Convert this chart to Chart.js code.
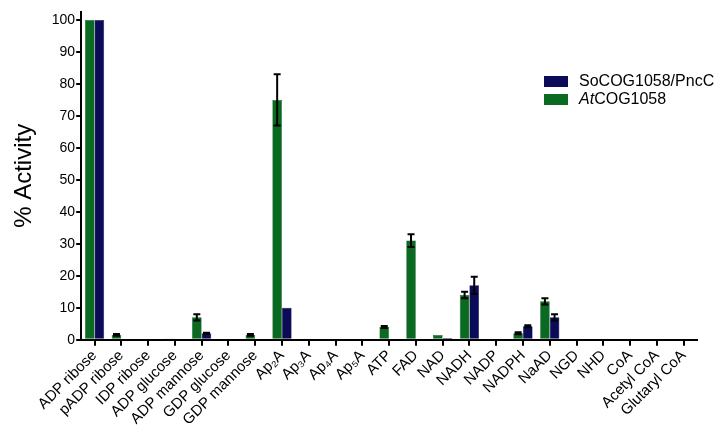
<!DOCTYPE html>
<html>
<head>
<meta charset="utf-8">
<script src="https://cdn.jsdelivr.net/npm/chart.js@4/dist/chart.umd.min.js"></script>
<style>
  html, body { margin: 0; padding: 0; background: #fff; }
  #wrap { position: relative; width: 720px; height: 433px; }
  #legend { position: absolute; left: 544px; top: 72px; font-family: "Liberation Sans", Arial, sans-serif; font-size: 16px; color: #000; }
  #legend div { height: 18px; line-height: 18px; white-space: nowrap; }
  #legend span.box { display: inline-block; width: 24px; height: 11px; margin-right: 11px; vertical-align: -1px; }
</style>
</head>
<body>
<div id="wrap">
  <canvas id="myChart" width="720" height="433"></canvas>
  <div id="legend">
    <div><span class="box" style="background:#0b0b57"></span>SoCOG1058/PncC</div>
    <div><span class="box" style="background:#0a6a22"></span><i>At</i>COG1058</div>
  </div>
</div>
<script>
// substrates along the x-axis
var substrates = ['ADP ribose','pADP ribose','IDP ribose','ADP glucose','ADP mannose','GDP glucose','GDP mannose',
  'Ap₂A','Ap₃A','Ap₄A','Ap₅A','ATP','FAD','NAD','NADH','NADP','NADPH','NaAD','NGD','NHD','CoA','Acetyl CoA','Glutaryl CoA'];

// AtCOG1058 (green)
var atVals = [100,1.5,0,0.4,7,0,1.5,75,0,0,0,4,31,1.5,14,0,2,12,0,0,0,0,0];
var atErr  = [0,0.3,0,0,1,0,0.3,8,0,0,0,0.3,2,0,1,0,0.3,1,0,0,0,0,0];
// SoCOG1058/PncC (navy)
var soVals = [100,0,0,0,2,0,0,10,0,0,0,0,0,0.5,17,0,4.2,7,0,0,0,0,0];
var soErr  = [0,0,0,0,0.2,0,0,0,0,0,0,0,0,0,2.7,0,0.3,1,0,0,0,0,0];

var yTicks = [0,10,20,30,40,50,60,70,80,90,100];

var errorBars = {
  id: 'errorBars',
  afterDatasetsDraw: function(chart) {
    var ctx = chart.ctx;
    var yScale = chart.scales.y;
    ctx.save();
    ctx.strokeStyle = '#000';
    ctx.lineWidth = 2;
    chart.data.datasets.forEach(function(ds, i) {
      var meta = chart.getDatasetMeta(i);
      meta.data.forEach(function(bar, j) {
        var e = ds.errors[j];
        if (!e) return;
        var v = ds.data[j];
        var yt = yScale.getPixelForValue(v + e);
        var yb = yScale.getPixelForValue(Math.max(v - e, 0));
        ctx.beginPath();
        ctx.moveTo(bar.x, yt); ctx.lineTo(bar.x, yb);
        ctx.moveTo(bar.x - 3.5, yt); ctx.lineTo(bar.x + 3.5, yt);
        ctx.moveTo(bar.x - 3.5, yb); ctx.lineTo(bar.x + 3.5, yb);
        ctx.stroke();
      });
    });
    ctx.restore();
  }
};

Chart.defaults.font.family = '"Liberation Sans", Arial, sans-serif';
Chart.defaults.color = '#000';

var ctx = document.getElementById('myChart');
var myChart = new Chart(ctx, {
  type: 'bar',
  data: {
    labels: substrates,
    datasets: [
      { label: 'AtCOG1058', data: atVals, errors: atErr, backgroundColor: '#0a6a22', borderColor: '#08581c', borderWidth: 0.5 },
      { label: 'SoCOG1058/PncC', data: soVals, errors: soErr, backgroundColor: '#0b0b57', borderColor: '#070744', borderWidth: 0.5 }
    ]
  },
  options: {
    responsive: false,
    animation: false,
    categoryPercentage: 0.72,
    barPercentage: 1.0,
    layout: { padding: { left: 10, right: 23, top: 12, bottom: 3 } },
    plugins: { legend: { display: false }, tooltip: { enabled: false } },
    scales: {
      x: {
        offset: true,
        grid: { offset: false, drawOnChartArea: false, drawTicks: true, tickLength: 6, color: '#000', lineWidth: 2 },
        border: { color: '#000', width: 2 },
        ticks: { font: { size: 15 }, maxRotation: 45, minRotation: 45, autoSkip: false, padding: 1 }
      },
      y: {
        min: 0,
        max: 102.5,
        afterBuildTicks: function(axis) {
          axis.ticks = yTicks.map(function(v) { return { value: v }; });
        },
        grid: { drawOnChartArea: false, drawTicks: true, tickLength: 5, color: '#000', lineWidth: 2 },
        border: { color: '#000', width: 2 },
        ticks: { font: { size: 14 }, padding: 1 },
        title: { display: true, text: '% Activity', font: { size: 24 }, padding: { top: 0, bottom: 12 } }
      }
    }
  },
  plugins: [errorBars]
});
</script>
</body>
</html>
